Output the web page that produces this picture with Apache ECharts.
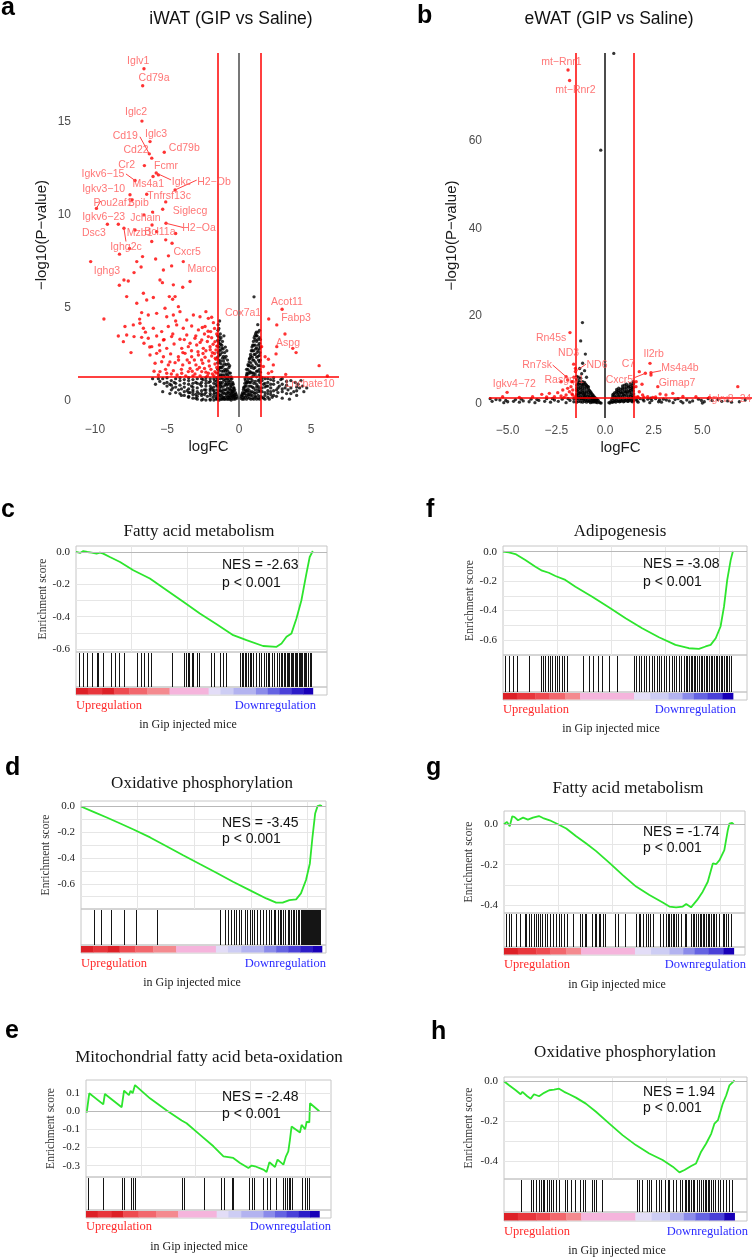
<!DOCTYPE html>
<html><head><meta charset="utf-8">
<script src="https://cdn.jsdelivr.net/npm/echarts@6/dist/echarts.min.js"></script>
<style>html,body{margin:0;padding:0;background:#fff}#c{width:752px;height:1258px}</style>
</head><body><div id="c"></div>
<script>
// ---------------- DATA ----------------
const fcCut = 1.5, pCut = 1.3;
const iwatXTicks = [-10, -5, 0, 5];
const iwatYTicks = [0, 5, 10, 15];
const ewatXTicks = [-5, -2.5, 0, 2.5, 5];
const ewatYTicks = [0, 20, 40, 60];

const iwatRed = [
[-7.1,7.49],[-6.7,7.76],[-5.79,7.63],[-5.25,7.04],[-4.68,7.26],[-7.29,6.9],[-7.99,6.5],[-7.69,6.45],[-5.49,6.5],[-5.32,6.36],[-4.56,6.24],[-3.91,6.11],[-3.4,6.42],[-8.31,6.22],[-7.8,5.61],[-6.64,5.79],[-5.95,5.56],[-4.84,5.61],[-4.61,5.47],[-4.44,5.61],[-7.1,5.25],[-6.41,5.43],[-5.14,4.98],[-4.21,5.07],[-4.1,4.8],[-9.38,4.41],[-6.76,4.75],[-6.3,4.62],[-5.72,4.71],[-5.02,4.53],[-4.56,4.62],[-3.63,4.35],[-3.17,4.62],[-2.71,4.53],[-2.13,4.44],[-1.78,4.21],[-7.92,4.0],[-7.34,4.09],[-6.88,4.18],[-6.64,3.91],[-5.95,3.91],[-5.37,3.73],[-4.91,4.0],[-4.33,4.09],[-3.87,3.91],[-3.29,4.03],[-2.82,3.82],[-2.36,4.0],[-1.97,3.73],[-8.38,3.49],[-7.8,3.55],[-7.29,3.46],[-6.76,3.42],[-6.3,3.37],[-5.72,3.49],[-5.25,3.28],[-4.68,3.46],[-4.1,3.32],[-3.63,3.55],[-3.06,3.37],[-2.59,3.28],[-2.13,3.46],[-1.67,3.19],[-8.03,3.19],[-6.6,3.1],[-6.06,2.92],[-5.53,3.01],[-5.02,2.83],[-4.51,3.06],[-3.98,2.83],[-3.52,2.92],[-2.94,3.01],[-2.48,2.83],[-2.01,2.92],[-1.6,2.74],[-6.18,2.47],[-5.72,2.56],[-5.25,2.38],[-4.75,2.53],[-4.21,2.38],[-3.75,2.56],[-3.29,2.38],[-2.82,2.47],[-2.36,2.35],[-1.9,2.42],[-1.6,2.24],[-5.83,2.03],[-5.37,2.11],[-4.91,1.94],[-4.44,2.06],[-3.91,1.94],[-3.45,2.06],[-2.99,1.94],[-2.52,2.03],[-2.06,1.88],[-1.67,1.99],[-5.49,1.58],[-5.02,1.49],[-4.56,1.63],[-3.98,1.49],[-3.52,1.58],[-3.06,1.45],[-2.59,1.58],[-2.13,1.49],[-1.67,1.58],
[-4.3,1.4],[-4.0,1.7],[-3.7,1.35],[-3.4,1.75],[-3.2,1.35],[-2.9,1.7],[-2.7,1.35],[-2.4,1.75],[-2.2,1.35],[-1.95,1.7],[-1.75,1.35],[-1.55,1.8],
[-4.2,2.2],[-3.9,2.6],[-3.6,2.2],[-3.3,2.7],[-3.1,2.2],[-2.85,2.65],[-2.6,2.2],[-2.3,2.7],[-2.1,2.15],[-1.85,2.6],[-1.65,2.3],[-1.55,2.95],
[-3.8,3.3],[-3.4,3.1],[-3.0,3.5],[-2.7,3.15],[-2.4,3.6],[-2.2,3.2],[-1.9,3.4],[-1.7,3.9],[-1.55,3.6],[-1.6,1.5],
[-5.5,2.7],[-5.2,3.3],[-4.8,2.1],[-4.6,3.6],[-4.4,4.3],[-6.5,3.7],[-6.9,4.4],[-7.5,2.6],[-6.2,2.9],[-5.9,1.6],[-5.6,1.4],[-5.1,1.7],[-4.7,1.45],
[-6.06,8.57],[-5.09,8.66],[-5.72,9.1],[-8.3,7.89],[-4.4,9.0],[-6.6,10.0],[-5.3,10.3],[-7.6,8.2],[-6.8,7.2],[-4.9,7.8],
[-2.3,1.55],[-1.85,1.45],[-2.75,1.8],[-3.25,1.6],[-1.7,2.55],[-2.0,2.75],[-2.5,2.55],[-1.8,3.05],[-2.15,3.75],[-2.55,3.95],[-1.9,4.5],[-2.3,4.8],
[1.57,2.92],[1.81,2.38],[1.69,1.85],[2.04,2.24],[2.38,1.94],[2.27,1.58],[2.57,2.53],[3.73,2.83],[3.96,2.6],[5.56,1.9],[3.24,1.43],[2.04,1.49],[2.62,2.92]
];

const iwatBlack = [
[-1.45,4.1],[-1.4,3.9],[-1.35,4.3],[-1.3,3.6],[-1.48,3.5],[-1.42,3.2],[-1.38,2.9],[-1.32,3.3],[-1.25,3.4],[-1.2,3.0],[-1.15,3.2],[-1.1,2.8],[-1.05,3.5],[-1.0,2.6],[-0.95,2.9],[-0.9,2.4],[-0.85,2.7],[-0.8,2.2],[-0.75,2.0],[-0.7,1.8],[-0.65,1.9],[-0.6,1.5],[-0.55,1.3],[-0.5,1.2],[-0.45,1.0],[-0.4,0.9],[-0.35,0.7],[-0.3,0.6],[-0.25,0.45],[-0.2,0.35],[-0.15,0.25],[-0.1,0.15],
[-1.45,2.6],[-1.4,2.2],[-1.35,1.8],[-1.3,2.5],[-1.25,2.0],[-1.2,1.6],[-1.15,2.3],[-1.1,1.9],[-1.05,1.4],[-1.0,2.0],[-0.95,1.6],[-0.9,1.2],[-0.85,1.7],[-0.8,1.4],[-0.75,1.1],[-0.7,1.3],[-0.65,0.9],[-0.6,1.1],[-0.55,0.8],[-0.5,0.6],[-0.45,0.5],[-0.4,0.4],[-0.35,0.3],[-0.3,0.2],[-0.25,0.15],
[-1.45,1.5],[-1.4,1.0],[-1.35,0.7],[-1.3,1.2],[-1.25,0.9],[-1.2,0.5],[-1.15,1.0],[-1.1,0.6],[-1.05,0.8],[-1.0,0.4],[-0.95,0.9],[-0.9,0.6],[-0.85,0.3],[-0.8,0.7],[-0.75,0.5],[-0.7,0.2],[-0.65,0.4],[-0.6,0.6],[-0.55,0.3],[-0.5,0.15],[-0.45,0.25],[-0.4,0.1],
[-1.45,0.3],[-1.35,0.2],[-1.25,0.1],[-1.15,0.2],[-1.05,0.1],[-0.95,0.2],[-0.85,0.1],[-0.75,0.1],[-0.65,0.1],[-0.55,0.05],
[-1.48,0.1],[-1.48,0.45],[-1.48,0.8],[-1.48,1.15],[-1.48,1.7],[-1.48,2.05],[-1.48,2.35],[-1.48,2.95],[-1.48,3.25],[-1.46,3.8],
[-1.38,0.05],[-1.38,0.35],[-1.38,0.55],[-1.38,0.9],[-1.38,1.35],[-1.38,1.65],[-1.38,2.05],[-1.38,2.45],[-1.37,2.7],[-1.38,3.1],[-1.39,3.45],
[-1.28,0.3],[-1.28,0.55],[-1.28,0.8],[-1.28,1.0],[-1.28,1.4],[-1.28,1.8],[-1.28,2.15],[-1.27,2.75],[-1.28,3.05],
[-1.18,0.1],[-1.18,0.35],[-1.18,0.75],[-1.18,1.25],[-1.18,1.4],[-1.18,1.8],[-1.18,2.6],[-1.17,2.85],
[-1.08,0.2],[-1.08,0.45],[-1.08,1.15],[-1.08,1.6],[-1.08,2.15],[-1.08,2.4],
[-0.98,0.1],[-0.98,0.6],[-0.98,1.1],[-0.98,1.3],[-0.98,1.7],[-0.98,2.3],
[-0.88,0.4],[-0.88,0.85],[-0.88,1.0],[-0.88,1.45],[-0.88,1.95],
[-0.78,0.2],[-0.78,0.45],[-0.78,0.9],[-0.78,1.2],[-0.78,1.6],
[-0.68,0.3],[-0.68,0.65],[-0.68,1.0],[-0.68,1.5],[-0.58,0.2],[-0.58,0.45],[-0.58,0.75],[-0.58,1.25],
[-0.48,0.35],[-0.48,0.5],[-0.48,0.9],[-0.38,0.25],[-0.38,0.55],[-0.38,0.7],[-0.28,0.1],[-0.28,0.35],
[-5.5,1.05],[-5.2,0.95],[-5.0,0.8],[-4.8,0.9],[-4.6,0.7],[-4.4,0.75],[-4.2,0.6],[-4.0,0.65],[-3.8,0.5],[-3.6,0.55],[-3.4,0.45],[-3.2,0.5],[-3.0,0.35],[-2.8,0.4],[-2.6,0.3],[-2.4,0.35],[-2.2,0.25],[-2.0,0.3],[-1.8,0.2],[-1.6,0.25],
[-3.5,1.1],[-3.0,1.0],[-2.7,0.9],[-2.5,1.15],[-2.3,0.8],[-2.1,1.0],[-1.9,0.7],[-1.7,1.1],[-1.6,0.9],[-2.9,0.7],[-2.4,0.6],[-2.0,0.55],[-1.8,0.6],[-1.7,0.45],[-2.6,0.55],[-3.3,0.8],[-4.5,1.0],[-5.8,0.9],[-6.0,1.2],[-4.0,0.3],[-3.5,0.2],[-3.0,0.15],[-2.5,0.1],[-2.0,0.1],[-1.6,0.1],[-4.8,0.4],[-5.3,0.5],
[-5.6,1.2],[-5.3,1.2],[-5.0,1.0],[-5.0,1.25],[-4.7,0.6],[-4.7,0.85],[-4.7,1.1],[-4.4,0.45],[-4.4,0.95],[-4.4,1.2],[-4.1,0.4],[-4.1,0.85],[-4.1,1.1],[-4.1,1.25],[-3.8,0.3],[-3.8,0.75],[-3.8,0.95],[-3.8,1.15],
[-3.5,0.25],[-3.5,0.45],[-3.5,0.65],[-3.5,0.9],[-3.5,1.25],[-3.2,0.15],[-3.2,0.35],[-3.2,0.6],[-3.2,0.75],[-3.2,0.95],[-3.2,1.15],
[-2.9,0.1],[-2.9,0.25],[-2.9,0.5],[-2.9,0.95],[-2.9,1.2],[-2.6,0.05],[-2.6,0.4],[-2.6,0.8],[-2.6,1.0],[-2.6,1.2],
[-2.3,0.05],[-2.3,0.45],[-2.3,0.6],[-2.3,0.95],[-2.3,1.1],[-2.3,1.25],[-2.0,0.05],[-2.0,0.4],[-2.0,0.65],[-2.0,0.8],[-2.0,1.05],[-2.0,1.2],
[-1.75,0.05],[-1.75,0.35],[-1.75,0.55],[-1.75,0.75],[-1.75,0.95],[-1.75,1.2],[-1.55,0.15],[-1.55,0.4],[-1.55,0.6],[-1.55,0.8],[-1.55,1.05],[-1.55,1.25],
[0.1,0.15],[0.15,0.25],[0.2,0.35],[0.25,0.45],[0.3,0.6],[0.35,0.75],[0.4,0.95],[0.45,1.1],[0.5,1.3],[0.55,1.5],[0.6,1.7],[0.65,1.9],[0.7,2.1],[0.75,2.3],[0.8,2.5],[0.85,2.7],[0.9,2.9],[0.95,3.0],[1.0,3.2],[1.05,3.4],[1.1,3.5],[1.15,3.6],[1.2,3.7],[1.25,3.5],[1.3,3.3],[1.35,3.0],[1.4,2.8],[1.45,2.6],
[0.3,0.2],[0.4,0.4],[0.45,0.6],[0.5,0.8],[0.55,1.0],[0.6,0.5],[0.65,1.2],[0.7,0.8],[0.75,1.5],[0.8,1.0],[0.85,1.8],[0.9,1.3],[0.95,2.2],[1.0,1.5],[1.05,2.5],[1.1,1.8],[1.15,2.8],[1.2,2.0],[1.25,2.6],[1.3,1.6],[1.35,2.2],[1.4,1.4],[1.45,1.9],[0.5,0.3],[0.6,0.2],[0.7,0.35],[0.8,0.3],[0.9,0.5],[1.0,0.7],[1.1,0.4],[1.2,0.9],[1.3,0.6],[1.4,0.5],[1.45,1.0],[0.95,0.15],[1.15,0.2],[1.35,0.15],
[0.22,0.1],[0.22,0.3],[0.32,0.1],[0.32,0.4],[0.32,0.7],[0.42,0.2],[0.42,0.5],[0.42,0.8],[0.42,1.2],[0.52,0.1],[0.52,0.55],[0.52,0.95],[0.52,1.4],[0.52,1.7],
[0.62,0.35],[0.62,0.65],[0.62,1.05],[0.62,1.45],[0.62,1.95],[0.72,0.15],[0.72,0.55],[0.72,1.0],[0.72,1.6],[0.72,1.9],[0.72,2.25],
[0.82,0.1],[0.82,0.45],[0.82,0.8],[0.82,1.2],[0.82,1.55],[0.82,2.05],[0.82,2.4],[0.92,0.3],[0.92,0.75],[0.92,1.1],[0.92,1.5],[0.92,1.9],[0.92,2.35],[0.92,2.7],
[1.02,0.1],[1.02,0.45],[1.02,0.95],[1.02,1.35],[1.02,1.75],[1.02,2.2],[1.02,2.7],[1.02,3.0],[1.12,0.25],[1.12,0.6],[1.12,1.05],[1.12,1.45],[1.12,2.1],[1.12,2.5],[1.12,3.0],[1.12,3.3],
[1.22,0.1],[1.22,0.45],[1.22,0.75],[1.22,1.3],[1.22,1.6],[1.22,2.35],[1.22,2.85],[1.22,3.2],[1.22,3.5],[1.32,0.3],[1.32,0.8],[1.32,1.1],[1.32,1.9],[1.32,2.4],[1.32,2.7],[1.32,3.7],[1.3,4.1],
[1.42,0.1],[1.42,0.7],[1.42,1.15],[1.42,1.7],[1.42,2.1],[1.42,2.45],[1.42,3.1],[1.42,3.4],[1.42,3.8],[1.48,0.25],[1.48,0.55],[1.48,1.3],[1.48,1.55],[1.48,2.2],[1.48,2.9],[1.48,3.3],
[1.04,5.6],
[1.6,1.1],[1.7,0.9],[1.8,1.2],[1.9,0.8],[2.0,1.0],[2.2,0.7],[2.4,0.9],[2.6,0.6],[2.8,0.8],[3.0,0.5],[3.2,0.7],[3.4,0.6],[3.6,0.4],[3.8,0.5],[4.0,0.3],[4.2,0.7],[4.5,0.5],[1.6,0.5],[1.8,0.3],[2.0,0.4],[2.3,0.2],[2.6,0.25],[3.0,0.15],[1.7,0.15],[2.1,0.1],[3.5,0.1],[4.1,0.9],[4.3,1.1],[3.9,1.0],[2.9,1.15],
[1.6,0.2],[1.6,0.7],[1.6,1.25],[1.8,0.1],[1.8,0.45],[1.8,0.75],[1.8,0.95],[2.0,0.2],[2.0,0.55],[2.0,0.8],[2.0,1.2],[2.2,0.35],[2.2,0.5],[2.2,0.9],[2.2,1.15],[2.4,0.3],[2.4,0.55],[2.4,1.1],[2.4,1.25],
[2.7,0.45],[2.7,0.7],[2.7,1.0],[3.0,0.65],[3.0,0.9],[3.0,1.2],[3.3,0.4],[3.3,0.85],[3.3,1.05],[3.6,0.7],[3.6,1.1],[4.0,0.55],[4.0,0.75],[4.4,0.8],[4.7,0.7]
];

// [gene, logFC, -log10P, labelX, labelY, leaderStartX, leaderStartY]
const iwatLabels = [
['Iglv1',-6.6,17.85,-7.0,18.25],
['Cd79a',-6.69,16.94,-5.9,17.35],
['Iglc2',-6.74,15.04,-7.15,15.5],
['Cd19',-6.23,13.28,-7.9,14.25,-6.88,14.2],
['Iglc3',-6.18,13.94,-5.76,14.35],
['Cd22',-6.06,13.05,-7.15,13.5],
['Cd79b',-5.19,13.37,-3.8,13.6],
['Cr2',-6.57,12.65,-7.8,12.7],
['Fcmr',-5.6,12.15,-5.07,12.6],
['Igkv6\u221215',-7.22,11.85,-9.45,12.2,-7.85,12.2],
['Ms4a1',-5.97,12.06,-6.3,11.67],
['Igkc',-5.75,12.25,-4.0,11.77,-4.72,11.88],
['H2\u2212Ob',-4.44,11.34,-1.74,11.77,-2.94,11.87],
['Igkv3\u221210',-7.57,11.08,-9.4,11.4],
['Tnfrsf13c',-6.41,11.11,-4.86,11.0],
['Pou2af1',-9.9,10.35,-8.75,10.65,-9.6,10.75],
['Spib',-7.43,10.8,-7.0,10.65],
['Siglecg',-5.09,10.7,-3.4,10.2],
['Igkv6\u221223',-8.38,9.5,-9.4,9.9],
['Jchain',-6.0,10.15,-6.5,9.84],
['H2\u2212Oa',-5.07,9.55,-2.78,9.3,-3.87,9.32],
['Dsc3',-9.14,9.5,-10.07,9.03],
['Mzb1',-7.22,9.19,-6.9,9.03],
['Bcl11a',-6.04,9.46,-5.5,9.09],
['Ighg2c',-7.99,9.28,-7.85,8.28,-7.85,8.57],
['Cxcr5',-4.65,8.48,-3.6,8.0],
['Marco',-3.87,7.49,-2.57,7.1],
['Ighg3',-10.3,7.49,-9.17,7.0],
['Acot11',2.99,4.93,3.33,5.32],
['Cox7a1',2.06,4.41,0.28,4.73],
['Fabp3',2.62,4.09,3.96,4.46],
['Aspg',3.19,3.6,3.4,3.12],
['Lncbate10',6.13,1.34,4.93,0.91]
];

const ewatRed = [
[-2.26,4.99],[-2.86,2.32],[-3.25,2.1],[-2.43,2.48],[-2.17,3.09],[-1.92,3.47],[-1.75,3.85],[-1.83,2.7],[-1.66,3.09],[-2.0,1.94],[-1.66,1.94],[-2.26,1.71],[-2.6,1.56],[-3.72,1.56],[-4.4,1.41],[-5.26,1.56],[-1.52,8.0],[-1.71,4.99],[-1.92,5.37],[-1.6,6.0],[-1.7,2.2],[-1.55,1.5],[-2.1,1.4],[-3.0,1.5],
[2.36,6.51],[1.59,3.85],[1.76,2.7],[1.68,1.56],[1.93,1.94],[2.19,1.56],[2.45,1.41],[3.13,1.94],[3.48,2.32],[4.67,1.56],[5.36,1.41],[2.83,2.17],[1.6,5.0],[1.9,4.4],[1.55,1.45],[1.7,1.4],[2.0,1.45],[2.6,1.5],[4.0,1.6]
];

const ewatBlack = [
[0.45,80.0],[-0.22,57.9],
[-1.16,18.5],[-1.25,14.3],[-1.01,11.3],[-1.15,9.2],[-1.3,8.0],[-1.05,7.5],[-1.2,6.8],[-0.95,6.0],
[-1.45,5.5],[-1.4,4.8],[-1.35,5.2],[-1.3,4.5],[-1.25,5.8],[-1.2,4.2],[-1.15,5.0],[-1.1,4.6],[-1.05,3.9],[-1.0,4.4],[-0.95,3.6],[-0.9,3.9],[-0.85,3.3],[-0.8,3.0],[-0.75,2.7],[-0.7,2.4],[-0.65,2.1],[-0.6,1.8],[-0.55,1.5],[-0.5,1.3],[-0.45,1.1],[-0.4,0.9],[-0.35,0.7],
[-1.45,3.5],[-1.4,2.8],[-1.35,3.8],[-1.3,2.5],[-1.25,3.2],[-1.2,2.2],[-1.15,3.0],[-1.1,2.0],[-1.05,2.6],[-1.0,1.8],[-0.95,2.4],[-0.9,1.6],[-0.85,2.0],[-0.8,1.4],[-0.75,1.7],[-0.7,1.2],[-0.65,1.4],[-0.6,1.0],[-0.55,0.9],[-0.5,0.7],
[-1.45,1.8],[-1.4,1.2],[-1.35,1.9],[-1.3,1.1],[-1.25,1.6],[-1.2,1.0],[-1.15,1.5],[-1.1,0.9],[-1.05,1.3],[-1.0,0.8],[-0.9,0.7],[-0.8,0.6],[-0.7,0.5],[-0.6,0.4],[-0.5,0.3],[-0.4,0.2],[-0.3,0.3],[-0.25,0.15],[-0.2,0.1],
[-1.45,0.3],[-1.45,1.0],[-1.45,2.2],[-1.45,3.0],[-1.45,4.2],[-1.45,6.2],[-1.35,0.5],[-1.35,1.4],[-1.35,2.3],[-1.35,3.3],[-1.35,4.4],[-1.35,6.0],[-1.25,0.4],[-1.25,1.2],[-1.25,2.5],[-1.25,3.7],[-1.25,4.9],
[-1.15,0.3],[-1.15,1.1],[-1.15,2.6],[-1.15,3.6],[-1.15,4.3],[-1.05,0.5],[-1.05,1.6],[-1.05,2.2],[-1.05,3.3],[-1.05,4.8],[-0.95,0.3],[-0.95,1.2],[-0.95,2.9],[-0.95,4.2],
[-0.85,0.5],[-0.85,1.3],[-0.85,2.6],[-0.85,3.8],[-0.75,0.2],[-0.75,1.0],[-0.75,2.3],[-0.65,0.3],[-0.65,0.8],[-0.65,1.7],[-0.55,0.5],[-0.55,1.2],[-0.45,0.4],[-0.45,0.7],
[0.3,0.5],[0.35,1.0],[0.4,1.6],[0.45,2.2],[0.5,2.5],[0.6,2.8],[0.7,3.0],[0.8,3.3],[0.9,3.1],[1.0,3.5],[1.1,3.2],[1.2,3.7],[1.3,3.4],[1.4,4.2],[1.45,5.0],[0.55,1.5],[0.65,2.0],[0.75,2.2],[0.85,2.4],[0.95,2.0],[1.05,2.6],[1.15,2.3],[1.25,2.7],[1.35,2.5],[1.45,2.9],[0.5,1.0],[0.6,0.8],[0.7,1.3],[0.8,1.0],[0.9,1.6],[1.0,1.2],[1.1,1.8],[1.2,1.1],[1.3,1.7],[1.4,1.3],[0.35,0.3],[0.45,0.5],[0.55,0.3],[0.65,0.5],[0.75,0.4],[0.85,0.6],[0.95,0.4],[1.05,0.7],[1.15,0.5],[1.25,0.8],[1.35,0.6],[1.45,0.9],[0.2,0.2],[0.25,0.1],[1.1,4.4],[0.9,4.0],[1.3,4.6],
[0.4,0.3],[0.4,1.2],[0.4,2.0],[0.5,0.5],[0.5,1.8],[0.6,1.3],[0.6,2.4],[0.6,3.2],[0.7,0.6],[0.7,1.7],[0.7,2.6],[0.7,3.5],[0.8,0.5],[0.8,1.6],[0.8,2.7],[0.9,0.9],[0.9,2.4],[0.9,3.5],
[1.0,0.5],[1.0,1.9],[1.0,2.8],[1.0,4.2],[1.1,1.0],[1.1,2.6],[1.1,3.8],[1.2,0.5],[1.2,1.6],[1.2,2.9],[1.2,4.0],[1.3,1.0],[1.3,2.1],[1.3,3.0],[1.3,3.9],[1.4,0.4],[1.4,1.8],[1.4,3.2],[1.4,3.6],[1.47,0.6],[1.47,1.5],[1.47,2.2],[1.47,3.7],[1.47,4.5],
[-5.8,0.5],[-5.4,0.8],[-5.0,0.4],[-4.6,0.9],[-4.2,0.6],[-3.8,1.0],[-3.4,0.7],[-3.0,1.1],[-2.6,0.8],[-2.2,1.0],[-1.8,0.7],[-1.6,1.1],[-5.2,0.2],[-4.4,0.3],[-3.6,0.2],[-2.8,0.3],[-2.0,0.2],[-1.6,0.4],
[-5.9,1.1],[-5.6,0.9],[-5.1,0.7],[-4.7,0.5],[-4.3,1.0],[-3.9,0.4],[-3.5,0.9],[-3.1,0.5],[-2.7,1.1],[-2.4,0.5],[-1.9,1.1],
[1.6,0.9],[1.8,1.1],[2.0,0.6],[2.2,1.0],[2.4,0.7],[2.6,1.1],[2.8,0.8],[3.0,1.0],[3.3,0.6],[3.6,0.9],[3.9,0.5],[4.2,0.8],[4.5,0.6],[4.8,1.0],[5.1,0.4],[5.5,0.7],[6.0,0.5],[6.5,0.3],[1.7,0.3],[2.3,0.2],[2.9,0.3],[3.5,0.2],[4.0,0.15],[5.0,0.1],
[1.65,0.6],[1.95,0.9],[2.35,1.2],[2.75,0.4],[3.15,0.8],[3.75,1.1],[4.35,0.3],[4.95,0.7],[5.3,1.1],[5.8,0.9],[6.3,0.6],[6.9,0.4],[7.2,0.8]
];

const ewatLabels = [
['mt\u2212Rnr1',-1.9,76.2,-2.24,77.97],
['mt\u2212Rnr2',-1.82,73.8,-1.52,71.7],
['Rn45s',-1.8,16.2,-2.77,15.0],
['ND3',-1.61,9.0,-1.87,11.6],
['ND6',-1.52,7.3,-0.41,8.8,-0.98,9.0],
['Rn7sk',-2.0,6.13,-3.49,8.8,-2.69,8.8],
['Rasgrp1',-1.65,5.0,-2.09,5.37],
['Igkv4\u221272',-5.03,2.55,-4.66,4.5],
['Il2rb',2.31,9.18,2.5,11.3],
['C7',1.76,7.28,1.2,9.0],
['Ms4a4b',2.36,7.05,3.85,8.0,2.88,7.5],
['Cxcr5',2.07,6.9,0.74,5.37,1.42,5.75],
['Gimap7',2.71,3.85,3.7,4.6],
['Igkv8\u221224',6.82,3.85,6.42,1.0]
];

// GSEA running enrichment scores [rank position (0-100), ES]
const esIwatFattyAcid = [[0,0],[1.7,-0.006],[3.1,0.006],[4.8,0],[6.6,-0.004],[8.7,-0.01],[10.1,-0.004],[11.5,-0.01],[14.3,-0.031],[18.6,-0.062],[24.2,-0.113],[31.2,-0.164],[38.3,-0.236],[45.3,-0.308],[52.3,-0.38],[59.4,-0.446],[66.4,-0.514],[72.0,-0.545],[79.0,-0.581],[84.7,-0.586],[86.8,-0.565],[88.9,-0.524],[91.0,-0.503],[93.1,-0.411],[95.2,-0.298],[97.3,-0.134],[98.7,-0.031],[100,0.006]];
const hitsIwatFattyAcid = [1.4,2.8,4.8,6.6,8.7,9.4,11.5,14.8,16.5,18.3,20.3,25.9,27.3,28.8,30.2,31.5,40.4,45.7,46.4,47.1,47.8,48.8,49.5,50.9,51.9,57.0,58.2,60.8,62.2,63.2,69.2,69.9,70.6,71.3,72.0,72.7,73.4,74.1,74.8,75.9,77.4,78.3,79.3,80.2,80.9,81.6,82.6,83.5,84.7,85.8,86.5,87.2,87.8,88.3,88.9,89.5,90.0,90.6,91.1,91.7,92.3,92.8,93.4,94.0,94.5,95.1,95.6,96.2,96.8,97.3,98.0,98.7,99.4];

const esEwatAdipogenesis = [[0,0],[2.5,-0.005],[5.4,-0.016],[9.7,-0.057],[14.1,-0.102],[17,-0.129],[19.9,-0.143],[22.8,-0.165],[27.1,-0.192],[31.5,-0.238],[38.8,-0.306],[46,-0.378],[53.3,-0.453],[60.5,-0.521],[67.8,-0.582],[75,-0.634],[80.8,-0.657],[85.2,-0.661],[88.1,-0.645],[90.3,-0.634],[92.5,-0.589],[94.6,-0.509],[96.1,-0.374],[97.5,-0.192],[99,-0.057],[100,0.005]];
const hitsEwatAdipogenesis = [1.0,2.5,4.2,6.1,11.5,16.5,17.4,18.4,19.4,20.3,21.3,22.4,23.5,24.5,25.7,26.7,27.9,34.7,37.3,39.0,41.4,43.1,46.0,49.6,56.9,57.9,59.1,60.1,61.2,62.3,63.4,64.6,65.7,66.8,67.8,68.9,70.0,71.0,72.1,73.3,74.3,75.3,76.5,77.5,78.7,79.4,80.1,80.8,81.6,82.3,83.0,83.7,84.5,85.2,85.9,86.6,87.4,88.1,88.8,89.5,90.3,91.0,91.7,92.5,93.2,93.9,94.6,95.4,96.1,96.8,97.5,98.3,99.0];

const esIwatOxphos = [[0,0],[5.2,-0.041],[10.7,-0.085],[16.3,-0.132],[21.8,-0.178],[28.7,-0.24],[35.5,-0.308],[42.4,-0.378],[49.3,-0.447],[56.2,-0.515],[63.1,-0.584],[70,-0.649],[76.9,-0.714],[81,-0.747],[83.7,-0.747],[86.5,-0.727],[89.3,-0.721],[91.3,-0.675],[93.4,-0.571],[95,-0.442],[96.1,-0.235],[97.2,-0.054],[98.2,0.003],[99.2,0.01],[100,0.003]];
const hitsIwatOxphos = [5.2,8.3,12.5,18.0,22.7,31.4,57.6,59.6,61.0,62.4,63.4,64.5,65.6,66.5,67.9,68.9,70.0,71.1,72.0,73.0,74.1,75.5,76.9,78.0,79.0,80.0,80.7,81.7,82.4,83.1,84.0,84.8,85.8,86.5,87.2,87.9,88.6,89.3,89.9,90.6,91.2,91.6,92.0,92.4,92.8,93.2,93.6,94.0,94.4,94.8,95.2,95.6,96.0,96.4,96.8,97.2,97.6,98.0,98.4,98.8,99.2];

const esEwatFattyAcid = [[0,0],[1.3,0.012],[2.5,-0.01],[3.6,0.04],[4.6,0.036],[6.1,0.02],[8.3,0.033],[10.4,0.023],[12.6,0.033],[15.2,0.041],[17,0.031],[19.9,0.02],[23.5,0],[27.1,-0.021],[31.4,-0.059],[35.8,-0.095],[40.1,-0.133],[45.9,-0.191],[51.7,-0.252],[57.5,-0.309],[63.3,-0.351],[69.1,-0.388],[72,-0.408],[74.9,-0.412],[77.8,-0.408],[79.3,-0.395],[81.4,-0.412],[84.1,-0.375],[86.5,-0.334],[88.7,-0.285],[90.9,-0.194],[92.3,-0.198],[93.8,-0.178],[95.9,-0.128],[97.4,-0.03],[98.1,0.003],[98.8,-0.005],[99.3,0.007],[100,0]];
const hitsEwatFattyAcid = [1.0,2.2,3.2,5.1,6.8,9.0,9.7,10.9,11.9,12.9,13.8,14.8,15.5,16.5,17.7,18.8,19.9,21.3,22.8,23.9,24.9,25.9,27.4,30.0,33.2,34.1,35.1,35.8,38.4,39.4,40.1,41.3,42.0,43.0,43.8,48.1,49.6,52.5,57.5,58.6,59.4,60.4,61.6,62.6,63.6,64.8,67.7,69.4,70.3,71.3,72.0,72.8,73.5,74.2,75.0,75.7,77.1,78.6,79.3,81.4,82.2,82.9,83.6,84.3,85.1,85.8,86.5,87.2,88.0,88.7,89.4,90.1,90.9,91.6,92.3,93.8,95.2,95.9,96.7,97.4,98.8];

const esIwatMitoBetaOx = [[0.3,-0.007],[1,-0.007],[1.4,0.099],[7.4,0.038],[8.1,0.095],[15.3,0.022],[16.3,0.113],[18.4,0.089],[19.1,0.113],[20,0.099],[21,0.144],[27.4,0.071],[34.6,0.004],[41,-0.051],[43.1,-0.066],[48.9,-0.13],[54.6,-0.193],[58.9,-0.248],[63.1,-0.257],[66,-0.285],[69.6,-0.312],[71,-0.299],[72.4,-0.303],[76,-0.321],[77.4,-0.334],[78.6,-0.281],[81,-0.307],[82.1,-0.266],[84.6,-0.294],[85.7,-0.248],[86.7,-0.221],[87.4,-0.157],[88.1,-0.084],[91.7,-0.117],[92.4,-0.075],[93.9,-0.099],[94.6,-0.057],[95.7,-0.062],[96,0.044],[100,0]];
const hitsIwatMitoBetaOx = [1.0,7.4,15.6,16.3,19.1,20.0,21.0,41.0,41.9,50.6,57.9,59.1,62.4,63.1,70.0,71.0,72.0,76.0,77.7,78.9,81.4,84.6,85.3,86.0,86.9,87.4,88.1,92.4,93.9,94.9,95.6];

const esEwatOxphos = [[0,0],[2.2,-0.02],[5.1,-0.045],[7.2,-0.065],[8,-0.053],[10.1,-0.075],[11.6,-0.087],[13,-0.065],[15.2,-0.075],[17.4,-0.058],[19.6,-0.045],[21.7,-0.042],[23.9,-0.037],[26.1,-0.053],[28.3,-0.065],[31.2,-0.082],[35.5,-0.112],[39.9,-0.153],[45.7,-0.212],[51.4,-0.27],[57.2,-0.32],[63,-0.362],[68.8,-0.395],[73.2,-0.428],[76.1,-0.457],[78.3,-0.445],[81.2,-0.425],[83.3,-0.412],[85.5,-0.353],[87.7,-0.312],[89.9,-0.262],[91.3,-0.212],[92.8,-0.195],[94.9,-0.112],[96.4,-0.07],[97.8,-0.02],[98.6,-0.012],[100,0.005]];
const hitsEwatOxphos = [7.5,11.6,12.6,13.8,15.2,15.9,16.7,17.4,18.5,19.6,20.6,21.4,22.5,23.9,26.4,27.5,29.0,30.9,32.9,34.1,35.2,38.1,39.1,40.1,42.3,57.9,58.7,59.7,61.9,62.8,63.8,65.9,67.1,68.1,70.0,71.0,71.7,73.2,74.6,76.4,77.2,78.3,79.0,79.7,80.4,81.2,81.9,82.6,83.6,84.5,85.5,86.2,87.0,87.7,88.4,89.1,89.9,90.6,91.7,92.8,93.8,95.0,96.1,97.5,99.0];

// ranked-list colour bar: [start, end, metric level index (0 = most up, 13 = most down)]
const rankBarIwat = [[0,5,0],[5,11,1],[11,16,0],[16,22.5,2],[22.5,30,3],[30,39.5,4],[39.5,56,5],[56,61,6],[61,66.5,7],[66.5,76,8],[76,81,9],[81,86,10],[86,91,11],[91,96,12],[96,100,13]];
const rankBarEwat = [[0,6,0],[6,14,1],[14,20,2],[20,27,3],[27,33.5,4],[33.5,57,5],[57,64,6],[64,72,7],[72,78,8],[78,83,9],[83,89,10],[89,95.5,11],[95.5,100,13]];

const esTicks3 = [0, -0.2, -0.4, -0.6];
const esTicks2 = [0, -0.2, -0.4];
const esTicksE = [0.1, 0, -0.1, -0.2, -0.3];

// ---------------- BUILD ----------------
const SANS = 'Liberation Sans', SERIF = 'Liberation Serif';
const pal = ['#dd2027','#e8363c','#ee4b51','#f2676d','#f48a8f','#f5b4dc','#e3ddf7','#cdcdf4','#b3b3f0','#8b8bea','#6563e2','#4a40d8','#2c1cc8','#1800b8'];
const gseaGridX = [23.5, 47, 70.5, 94];
const grids = [], xAxes = [], yAxes = [], series = [], graphics = [];

function minus(v, d){ return (v < 0 ? '\u2212' : '') + Math.abs(v).toFixed(d); }
function txt(x, y, s, family, size, fill, align, weight){
  return {type:'text', x:x, y:y, silent:true, z:100,
    style:{text:s, fontFamily:family, fontSize:size, fontWeight:weight||'normal', fill:fill, align:align||'left', verticalAlign:'middle'}};
}

function volcano(v){
  const gi = grids.length;
  grids.push({left:v.left, top:v.top, width:v.right-v.left, height:v.bottom-v.top, outerBoundsMode:'none'});
  xAxes.push({gridIndex:gi, type:'value', min:v.xMin, max:v.xMax,
    name:'logFC', nameLocation:'middle', nameGap:v.xNameGap, nameMoveOverlap:false,
    nameTextStyle:{fontFamily:SANS, fontSize:15, color:'#1a1a1a'},
    axisLine:{show:false}, axisTick:{show:false, customValues:v.xTicks}, splitLine:{show:false},
    axisLabel:{customValues:v.xTicks, formatter:val => minus(val, v.xDec), fontFamily:SANS, fontSize:12, color:'#4d4d4d', margin:7}});
  yAxes.push({gridIndex:gi, type:'value', min:v.yMin, max:v.yMax,
    name:'\u2212log10(P\u2212value)', nameLocation:'middle', nameGap:v.yNameGap, nameRotate:90, nameMoveOverlap:false,
    nameTextStyle:{fontFamily:SANS, fontSize:15, color:'#1a1a1a'},
    axisLine:{show:false}, axisTick:{show:false, customValues:v.yTicks}, splitLine:{show:false},
    axisLabel:{customValues:v.yTicks, formatter:val => String(val), fontFamily:SANS, fontSize:12, color:'#4d4d4d', margin:7}});
  const b = {xAxisIndex:gi, yAxisIndex:gi, silent:true};
  series.push(Object.assign({type:'scatter', data:v.black, symbolSize:3.3, itemStyle:{color:'#000'}, z:2}, b));
  series.push(Object.assign({type:'scatter', data:v.red.concat(v.labels.map(l => [l[1], l[2]])), symbolSize:3.4, itemStyle:{color:'#ff0000'}, z:3}, b));
  const red = {color:'#ff0000', width:1.5, type:'solid'};
  series.push(Object.assign({type:'scatter', data:[], z:4, markLine:{symbol:['none','none'], silent:true, animation:false, label:{show:false},
    data:[{xAxis:-fcCut, lineStyle:red},{xAxis:fcCut, lineStyle:red},{xAxis:0, lineStyle:{color:v.zeroColor, width:1.5, type:'solid'}},{yAxis:pCut, lineStyle:red}]}}, b));
  series.push(Object.assign({type:'lines', coordinateSystem:'cartesian2d', z:5,
    data:v.labels.filter(l => l.length > 5).map(l => ({coords:[[l[5], l[6]], [l[1], l[2]]]})),
    lineStyle:{color:'#ff4040', width:1, opacity:1}}, b));
  series.push(Object.assign({type:'scatter', symbolSize:1, itemStyle:{color:'rgba(0,0,0,0)'}, z:6,
    data:v.labels.map(l => ({name:l[0], value:[l[3], l[4]]})),
    label:{show:true, position:'inside', formatter:'{b}', color:'#ff5252', fontSize:10.5, fontFamily:SANS}}, b));
  graphics.push(txt(v.titleX, 19, v.title, SANS, 17.5, '#111', 'center'));
}

function hitRender(params, api){
  const cs = params.coordSys;
  const x = Math.round(api.coord([api.value(0), 0])[0]) + 0.5;
  return {type:'line', shape:{x1:x, y1:cs.y + 1, x2:x, y2:cs.y + cs.height}, style:{stroke:'#151515', lineWidth:1}};
}
function barRender(params, api){
  const cs = params.coordSys;
  const x0 = api.coord([api.value(0), 0])[0], x1 = api.coord([api.value(1), 0])[0];
  return {type:'rect', shape:{x:x0, y:cs.y + 1, width:x1 - x0 + 0.4, height:cs.height - 1.5}, style:{fill:pal[api.value(2)]}};
}

function gsea(p){
  const w = p.right - p.left;
  const g1 = grids.length;
  grids.push({left:p.left, top:p.esTop, width:w, height:p.esBottom - p.esTop, show:true, borderColor:'#c6c6c6', borderWidth:1, outerBoundsMode:'none'});
  xAxes.push({gridIndex:g1, type:'value', min:0, max:p.xMax, axisLine:{show:false}, axisLabel:{show:false},
    axisTick:{show:false, customValues:gseaGridX}, splitLine:{show:true, lineStyle:{color:'#e6e6e6', width:1}}});
  yAxes.push({gridIndex:g1, type:'value', min:p.yMin, max:p.yMax,
    name:'Enrichment score', nameLocation:'middle', nameRotate:90, nameGap:p.left - p.nameX - 6, nameMoveOverlap:false,
    nameTextStyle:{fontFamily:SERIF, fontSize:11.5, color:'#333'},
    axisLine:{show:false}, axisTick:{show:false, customValues:p.yGrid},
    splitLine:{show:true, lineStyle:{color:'#e6e6e6', width:1}},
    axisLabel:{customValues:p.yTicks, formatter:val => val.toFixed(1), fontFamily:SERIF, fontSize:11, color:'#222', margin:6}});
  series.push({type:'line', xAxisIndex:g1, yAxisIndex:g1, data:p.es, showSymbol:false, symbol:'none', silent:true, z:3,
    lineStyle:{color:'#2de52d', width:1.8},
    markLine:{symbol:['none','none'], silent:true, animation:false, label:{show:false}, lineStyle:{color:'#b8b8b8', width:1, type:'solid'}, data:[{yAxis:0}]}});
  const g2 = grids.length;
  grids.push({left:p.left, top:p.esBottom, width:w, height:p.hitBottom - p.esBottom, show:true, borderColor:'#c6c6c6', borderWidth:1, outerBoundsMode:'none'});
  xAxes.push({gridIndex:g2, type:'value', min:0, max:p.xMax, show:false});
  yAxes.push({gridIndex:g2, type:'value', min:0, max:1, show:false});
  series.push({type:'custom', xAxisIndex:g2, yAxisIndex:g2, silent:true, data:p.hits.map(h => [h, 0.5]), renderItem:hitRender});
  const g3 = grids.length;
  grids.push({left:p.left, top:p.hitBottom, width:w, height:p.barBottom - p.hitBottom, show:true, borderColor:'#c6c6c6', borderWidth:1, outerBoundsMode:'none'});
  xAxes.push({gridIndex:g3, type:'value', min:0, max:p.xMax, show:false});
  yAxes.push({gridIndex:g3, type:'value', min:0, max:20, show:false});
  series.push({type:'custom', xAxisIndex:g3, yAxisIndex:g3, silent:true, data:p.bar, renderItem:barRender});

  graphics.push(txt(p.title[0], p.title[1], p.titleText, SERIF, 17, '#151515', 'center'));
  graphics.push(txt(p.nes[0], p.nes[1], p.nesText, SANS, 14, '#111', 'left'));
  graphics.push(txt(p.nes[0], p.nes[2], 'p < 0.001', SANS, 14, '#111', 'left'));
  graphics.push(txt(p.left, p.upY, 'Upregulation', SERIF, 12.5, '#ff2b2b', 'left'));
  graphics.push(txt(p.downRight, p.upY, 'Downregulation', SERIF, 12.5, '#2b2bff', 'right'));
  graphics.push(txt(p.mice[0], p.mice[1], 'in Gip injected mice', SERIF, 12, '#222', 'center'));
}

volcano({left:78, right:339, top:53, bottom:417, xMin:-11.18, xMax:6.94, yMin:-0.86, yMax:18.7,
  xTicks:iwatXTicks, yTicks:iwatYTicks, xDec:0, xNameGap:22, yNameGap:29, zeroColor:'#4a4a4a',
  red:iwatRed, black:iwatBlack, labels:iwatLabels, title:'iWAT (GIP vs Saline)', titleX:231});
volcano({left:489, right:752, top:53, bottom:418, xMin:-5.96, xMax:7.55, yMin:-3.31, yMax:80.1,
  xTicks:ewatXTicks, yTicks:ewatYTicks, xDec:1, xNameGap:22, yNameGap:30, zeroColor:'#111',
  red:ewatRed, black:ewatBlack, labels:ewatLabels, title:'eWAT (GIP vs Saline)', titleX:609});

const g5 = [0,-0.1,-0.2,-0.3,-0.4,-0.5,-0.6];
gsea({left:76, right:327, esTop:546, esBottom:652, hitBottom:687, barBottom:695, xMax:106, yMin:-0.618, yMax:0.037,
  yTicks:esTicks3, yGrid:g5, nameX:43, title:[199,532], titleText:'Fatty acid metabolism', nes:[222,565,583], nesText:'NES = -2.63',
  upY:706, downRight:316, mice:[188,725], es:esIwatFattyAcid, hits:hitsIwatFattyAcid, bar:rankBarIwat});
gsea({left:503, right:747, esTop:546, esBottom:655, hitBottom:692, barBottom:700, xMax:106.1, yMin:-0.703, yMax:0.039,
  yTicks:esTicks3, yGrid:g5, nameX:470, title:[620,532], titleText:'Adipogenesis', nes:[643,564,582], nesText:'NES = -3.08',
  upY:710, downRight:736, mice:[611,729], es:esEwatAdipogenesis, hits:hitsEwatAdipogenesis, bar:rankBarEwat});
gsea({left:81, right:326, esTop:801, esBottom:909, hitBottom:945, barBottom:953, xMax:101.7, yMin:-0.796, yMax:0.043,
  yTicks:esTicks3, yGrid:[0,-0.1,-0.2,-0.3,-0.4,-0.5,-0.6,-0.7], nameX:46, title:[202,784], titleText:'Oxidative phosphorylation', nes:[222,823,839], nesText:'NES = -3.45',
  upY:964, downRight:326, mice:[192,983], es:esIwatOxphos, hits:hitsIwatOxphos, bar:rankBarIwat});
gsea({left:504, right:745, esTop:811, esBottom:913, hitBottom:947, barBottom:955, xMax:104.9, yMin:-0.44, yMax:0.066,
  yTicks:esTicks2, yGrid:[0,-0.1,-0.2,-0.3,-0.4], nameX:469, title:[628,789], titleText:'Fatty acid metabolism', nes:[643,832,848], nesText:'NES = -1.74',
  upY:965, downRight:746, mice:[617,985], es:esEwatFattyAcid, hits:hitsEwatFattyAcid, bar:rankBarEwat});
gsea({left:86, right:331, esTop:1080, esBottom:1177, hitBottom:1210, barBottom:1218, xMax:105, yMin:-0.362, yMax:0.172,
  yTicks:esTicksE, yGrid:esTicksE, nameX:51, title:[209,1058], titleText:'Mitochondrial fatty acid beta-oxidation', nes:[222,1097,1114], nesText:'NES = -2.48',
  upY:1227, downRight:331, mice:[199,1247], es:esIwatMitoBetaOx, hits:hitsIwatMitoBetaOx, bar:rankBarIwat});
gsea({left:504, right:747, esTop:1077, esBottom:1179, hitBottom:1212, barBottom:1221, xMax:105.4, yMin:-0.49, yMax:0.0215,
  yTicks:esTicks2, yGrid:[0,-0.1,-0.2,-0.3,-0.4], nameX:469, title:[625,1053], titleText:'Oxidative phosphorylation', nes:[643,1092,1108], nesText:'NES = 1.94',
  upY:1232, downRight:748, mice:[617,1251], es:esEwatOxphos, hits:hitsEwatOxphos, bar:rankBarEwat});

// panel letters
[['a',1,8.6],['b',417,16.6],['c',1,510.6],['f',426,510.6],['d',5,768.6],['g',426,768.6],['e',5,1031.6],['h',431,1032.6]]
  .forEach(l => graphics.push(txt(l[1], l[2], l[0], SANS, 25, '#000', 'left', 'bold')));

const chart = echarts.init(document.getElementById('c'), null, {renderer:'canvas', width:752, height:1258});
chart.setOption({animation:false, backgroundColor:'#fff', textStyle:{fontFamily:SANS},
  grid:grids, xAxis:xAxes, yAxis:yAxes, series:series, graphic:{elements:graphics}});
</script>
</body></html>
